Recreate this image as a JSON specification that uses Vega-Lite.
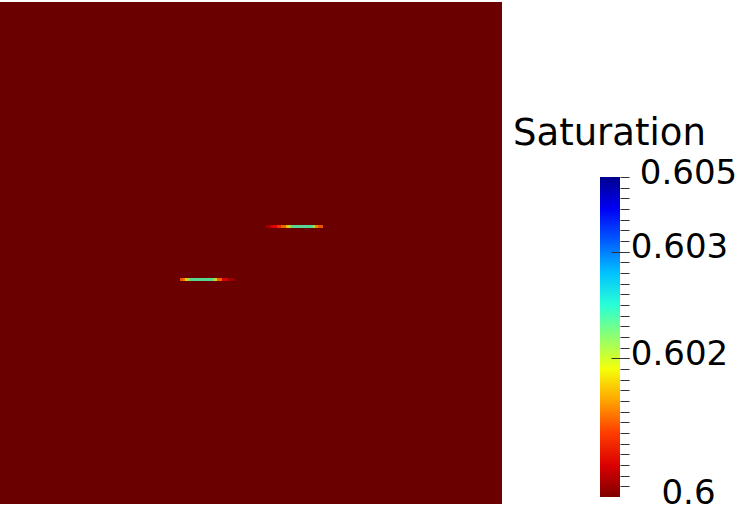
{
  "$schema": "https://vega.github.io/schema/vega-lite/v6.json",
  "width": 502,
  "height": 502,
  "autosize": {"type": "none"},
  "padding": {"left": 0, "top": 2, "right": 241, "bottom": 8},
  "background": "white",
  "config": {"view": {"fill": "black", "stroke": null}},
  "title": {
    "text": "Saturation",
    "anchor": "start",
    "frame": "group",
    "dx": 513,
    "dy": 180,
    "baseline": "alphabetic",
    "offset": 0,
    "font": "DejaVu Sans",
    "fontSize": 37,
    "fontWeight": "normal",
    "color": "black"
  },
  "datasets": {
    "cells": [
      {"x0": 0, "x1": 100, "y0": 0, "y1": 100, "s": 0.6},
      {"x0": 35.86, "x1": 36.45, "y0": 44.42, "y1": 45.02, "s": 0.6012},
      {"x0": 36.45, "x1": 36.85, "y0": 44.42, "y1": 45.02, "s": 0.6014},
      {"x0": 36.85, "x1": 37.25, "y0": 44.42, "y1": 45.02, "s": 0.6019},
      {"x0": 37.25, "x1": 37.85, "y0": 44.42, "y1": 45.02, "s": 0.6023},
      {"x0": 37.85, "x1": 42.43, "y0": 44.42, "y1": 45.02, "s": 0.6028},
      {"x0": 42.43, "x1": 42.83, "y0": 44.42, "y1": 45.02, "s": 0.6023},
      {"x0": 42.83, "x1": 43.23, "y0": 44.42, "y1": 45.02, "s": 0.6019},
      {"x0": 43.23, "x1": 44.22, "y0": 44.42, "y1": 45.02, "s": 0.6013},
      {"x0": 44.22, "x1": 45.42, "y0": 44.42, "y1": 45.02, "s": 0.6006},
      {"x0": 45.42, "x1": 46.81, "y0": 44.42, "y1": 45.02, "s": 0.6002},
      {"x0": 52.99, "x1": 53.78, "y0": 54.98, "y1": 55.58, "s": 0.6002},
      {"x0": 53.78, "x1": 54.38, "y0": 54.98, "y1": 55.58, "s": 0.6005},
      {"x0": 54.38, "x1": 55.18, "y0": 54.98, "y1": 55.58, "s": 0.6007},
      {"x0": 55.18, "x1": 55.98, "y0": 54.98, "y1": 55.58, "s": 0.601},
      {"x0": 55.98, "x1": 56.97, "y0": 54.98, "y1": 55.58, "s": 0.6013},
      {"x0": 56.97, "x1": 57.37, "y0": 54.98, "y1": 55.58, "s": 0.6018},
      {"x0": 57.37, "x1": 57.97, "y0": 54.98, "y1": 55.58, "s": 0.6022},
      {"x0": 57.97, "x1": 62.35, "y0": 54.98, "y1": 55.58, "s": 0.6028},
      {"x0": 62.35, "x1": 62.75, "y0": 54.98, "y1": 55.58, "s": 0.6022},
      {"x0": 62.75, "x1": 63.35, "y0": 54.98, "y1": 55.58, "s": 0.6015},
      {"x0": 63.35, "x1": 64.34, "y0": 54.98, "y1": 55.58, "s": 0.6012}
    ],
    "range": [{"s": 0.6}, {"s": 0.605}]
  },
  "layer": [
    {
      "data": {"name": "cells"},
      "mark": {"type": "rect", "fillOpacity": 0.84, "strokeWidth": 0},
      "encoding": {
        "x": {"field": "x0", "type": "quantitative", "scale": {"domain": [0, 100], "nice": false, "zero": false}, "axis": null},
        "x2": {"field": "x1"},
        "y": {"field": "y0", "type": "quantitative", "scale": {"domain": [0, 100], "nice": false, "zero": false}, "axis": null},
        "y2": {"field": "y1"},
        "color": {
          "field": "s",
          "type": "quantitative",
          "scale": {
            "domain": [0.6, 0.6007, 0.60195, 0.6032, 0.60445, 0.605],
            "range": ["#800000", "#ff0000", "#ffff00", "#00ffff", "#0000ff", "#00008f"],
            "interpolate": "rgb"
          },
          "legend": {
            "title": null,
            "orient": "none",
            "legendX": 600,
            "legendY": 175,
            "direction": "vertical",
            "gradientLength": 320,
            "gradientThickness": 20,
            "gradientStrokeWidth": 0,
            "labelExpr": "''",
            "labelOpacity": 0,
            "padding": 0
          }
        }
      }
    },
    {
      "data": {"name": "range"},
      "mark": {"type": "point", "opacity": 0},
      "encoding": {
        "y": {
          "field": "s",
          "type": "quantitative",
          "scale": {"domain": [0.599890625, 0.607734375], "nice": false, "zero": false},
          "axis": {
            "orient": "right",
            "offset": 118,
            "values": [0.605, 0.6048333, 0.6046667, 0.6045, 0.6043333, 0.6041667, 0.604, 0.6038333, 0.6036667, 0.6035, 0.6033333, 0.6031667, 0.603, 0.6028333, 0.6026667, 0.6025, 0.6023333, 0.6021667, 0.602, 0.6018333, 0.6016667, 0.6015, 0.6013333, 0.6011667, 0.601, 0.6008333, 0.6006667, 0.6005, 0.6003333, 0.6001667],
            "tickSize": 9,
            "tickColor": "#333333",
            "tickWidth": 1,
            "labels": false,
            "domain": false,
            "grid": false,
            "title": null,
            "zindex": 1
          }
        }
      }
    },
    {
      "data": {"name": "range"},
      "mark": {"type": "point", "opacity": 0},
      "encoding": {
        "y": {
          "field": "s",
          "type": "quantitative",
          "scale": {"domain": [0.599890625, 0.607734375], "nice": false, "zero": false},
          "axis": {
            "orient": "right",
            "offset": 109,
            "values": [0.605, 0.6038333, 0.6021667, 0.6],
            "tickSize": 18,
            "tickColor": "#333333",
            "tickWidth": 1,
            "tickOpacity": {"condition": {"test": "datum.value > 0.6045 || datum.value < 0.6005", "value": 0}, "value": 1},
            "labelExpr": "datum.value > 0.6045 ? '0.605' : datum.value > 0.603 ? '0.603' : datum.value > 0.601 ? '0.602' : '0.6'",
            "labelFont": "DejaVu Sans",
            "labelFontSize": 34,
            "labelColor": "black",
            "labelAlign": "center",
            "labelBaseline": "middle",
            "labelPadding": {"condition": {"test": "datum.value > 0.6045 || datum.value < 0.6005", "value": 59}, "value": 50},
            "labelOffset": -4,
            "labelOverlap": false,
            "labelFlush": false,
            "labelBound": false,
            "domain": false,
            "grid": false,
            "title": null,
            "zindex": 1
          }
        }
      }
    }
  ],
  "resolve": {"scale": {"y": "independent"}, "axis": {"y": "independent"}}
}
